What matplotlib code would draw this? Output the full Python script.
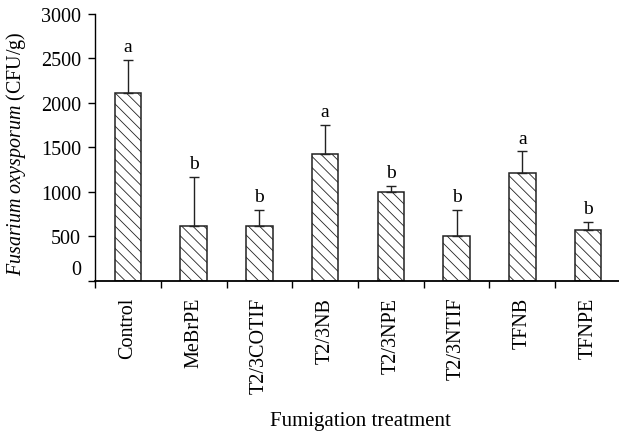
import matplotlib
matplotlib.use('Agg')
import matplotlib.pyplot as plt
import matplotlib.transforms as mtransforms
import numpy as np

plt.rcParams['font.family'] = 'Liberation Serif'
plt.rcParams['mathtext.fontset'] = 'custom'
plt.rcParams['mathtext.rm'] = 'Liberation Serif'
plt.rcParams['mathtext.it'] = 'Liberation Serif:italic'
plt.rcParams['hatch.linewidth'] = 0.6

treatments = ['Control', 'MeBrPE', 'T2/3COTIF', 'T2/3NB', 'T2/3NPE', 'T2/3NTIF', 'TFNB', 'TFNPE']
means = [2115, 615, 615, 1430, 1000, 505, 1210, 575]
errors = [365, 555, 180, 320, 65, 290, 245, 88]
letters = ['a', 'b', 'b', 'a', 'b', 'b', 'a', 'b']

fig = plt.figure(figsize=(6.19, 4.35), dpi=100)
ax = fig.add_axes([0.1535, 0.352, 0.8465, 0.6135])

x = np.arange(len(treatments))
ax.bar(x, means, width=0.4, color='white', edgecolor='#222222', linewidth=1.1,
       hatch='\\\\\\', zorder=2)
ax.errorbar(x, means, yerr=[np.zeros(len(x)), errors], fmt='none', ecolor='#222222',
            elinewidth=1.0, capsize=3.5, capthick=1.0, zorder=3)
for xi, m, e, l in zip(x, means, errors, letters):
    ax.text(xi, m + e + 55, l, ha='center', va='bottom', fontsize=14)

ax.set_xlim(-0.5, 7.47)
ax.set_ylim(0, 3000)
ax.set_yticks(range(0, 3001, 500))
ax.tick_params(axis='y', labelsize=14.5, length=5, width=1, direction='out', pad=5)

ax.set_xticks(x)
ax.set_xticklabels(treatments, rotation=90, fontsize=14.5)
ax.set_xticks(np.arange(-0.5, 7.5, 1), minor=True)
ax.tick_params(axis='x', which='major', length=0, pad=11.5)
ax.tick_params(axis='x', which='minor', length=5, width=1, direction='out')

# the "0" label sits a bit above the axis line in the original
lbl0 = ax.get_yticklabels()[0]
lbl0.set_transform(lbl0.get_transform() + mtransforms.ScaledTranslation(0, 14 / 100, fig.dpi_scale_trans))

for s in ['top', 'right']:
    ax.spines[s].set_visible(False)
ax.spines['left'].set_linewidth(1)
ax.spines['bottom'].set_linewidth(1.3)

ax.set_ylabel(r'$\it{Fusarium\ oxysporum}$ (CFU/g)', fontsize=14.4, va='center')
ax.yaxis.set_label_coords(-0.15, 0.479)
ax.set_xlabel('Fumigation treatment', fontsize=15, va='center')
ax.xaxis.set_label_coords(0.506, -0.524)

fig.savefig('out.png', dpi=100)
